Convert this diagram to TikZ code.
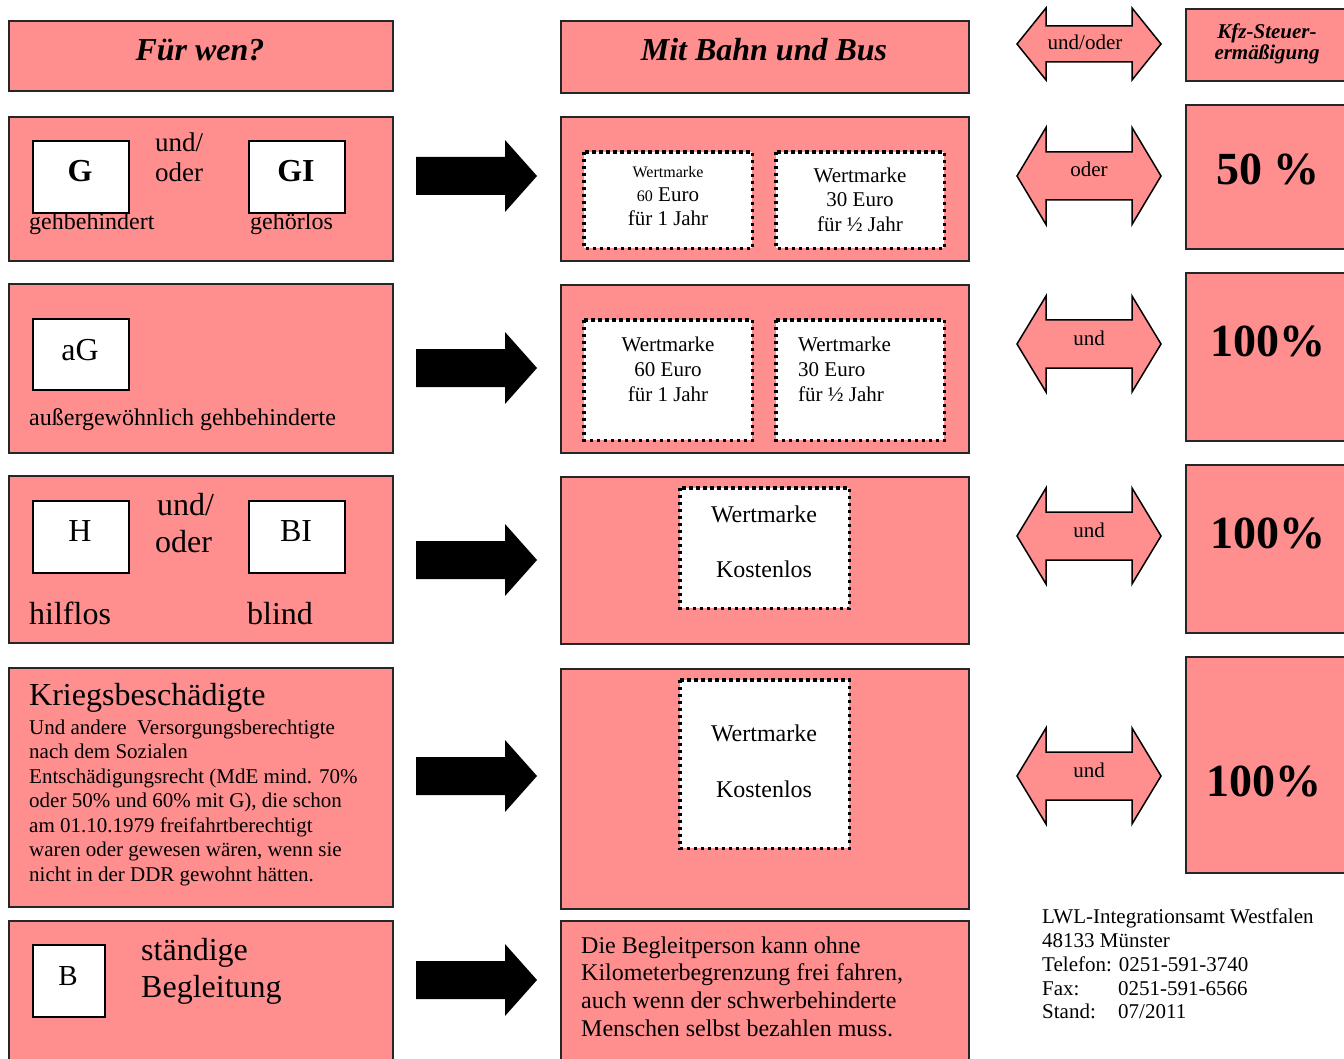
\documentclass[tikz,border=0pt]{standalone}
\usepackage{fontspec}
\setmainfont{Liberation Serif}
\definecolor{pinkfill}{RGB}{255,143,143}
\newcommand\blkarrow[2]{%
  \fill[black] (416,#2-19) -- (505,#2-19) -- (505,#2-36) -- (537,#2) -- (505,#2+36) -- (505,#2+19) -- (416,#2+19) -- cycle;}
\newcommand\twowayarrow[3]{% center y, half head, half shaft
  \filldraw[fill=pinkfill, draw=black, line width=1.5pt, line join=miter]
    (1017,#1) -- (1046,#1-#2) -- (1046,#1-#3) -- (1132,#1-#3) -- (1132,#1-#2) -- (1161,#1)
    -- (1132,#1+#2) -- (1132,#1+#3) -- (1046,#1+#3) -- (1046,#1+#2) -- cycle;}
\tikzset{
  box/.style={draw=black!85, line width=1.6pt, fill=pinkfill, anchor=north west, inner sep=0pt},
  wbox/.style={draw=black, line width=1.6pt, fill=white, anchor=north west, inner sep=0pt},
  dotbox/.style={fill=white, anchor=north west, inner sep=0pt},
  dotline/.style={draw=black, line width=3.2pt, dash pattern=on 3.2pt off 3.8pt},
  txt/.style={inner sep=0pt, anchor=base},
  txtl/.style={inner sep=0pt, anchor=base west},
  f16/.style={font=\fontsize{16}{19}\selectfont},
  f21/.style={font=\fontsize{21}{24.5}\selectfont},
  f24/.style={font=\fontsize{24}{28}\selectfont},
  f27/.style={font=\fontsize{27}{31}\selectfont},
  f32/.style={font=\fontsize{32}{37}\selectfont},
  fbig/.style={font=\fontsize{46}{50}\selectfont\bfseries},
  fhead/.style={font=\fontsize{32}{37}\selectfont\bfseries\itshape},
}
\begin{document}
\begin{tikzpicture}[x=1pt,y=-1pt]
\useasboundingbox (0,0) rectangle (1344,1059);
\clip (0,0) rectangle (1344,1059);
% left column
\node[box, minimum width=384pt, minimum height=70pt] (l0) at (8,20) {};
\node[box, minimum width=384pt, minimum height=144pt] (l1) at (8,116) {};
\node[box, minimum width=384pt, minimum height=169pt] (l2) at (8,283) {};
\node[box, minimum width=384pt, minimum height=167pt] (l3) at (8,475) {};
\node[box, minimum width=384pt, minimum height=239pt] (l4) at (8,667) {};
\node[box, minimum width=384pt, minimum height=170pt] (l5) at (8,920) {};
% middle column
\node[box, minimum width=408pt, minimum height=72pt] (m0) at (560,20) {};
\node[box, minimum width=408pt, minimum height=144pt] (m1) at (560,116) {};
\node[box, minimum width=408pt, minimum height=168pt] (m2) at (560,284) {};
\node[box, minimum width=408pt, minimum height=167pt] (m3) at (560,476) {};
\node[box, minimum width=408pt, minimum height=240pt] (m4) at (560,668) {};
\node[box, minimum width=408pt, minimum height=170pt] (m5) at (560,920) {};
% right column
\node[box, minimum width=200pt, minimum height=72pt] (r0) at (1185,8) {};
\node[box, minimum width=200pt, minimum height=144pt] (r1) at (1185,104) {};
\node[box, minimum width=200pt, minimum height=168pt] (r2) at (1185,272) {};
\node[box, minimum width=200pt, minimum height=168pt] (r3) at (1185,464) {};
\node[box, minimum width=200pt, minimum height=216pt] (r4) at (1185,656) {};
% white boxes
\node[wbox, minimum width=96pt, minimum height=72pt] (bG) at (32,140) {};
\node[wbox, minimum width=96pt, minimum height=72pt] (bGI) at (248,140) {};
\node[wbox, minimum width=96pt, minimum height=71pt] (baG) at (32,318) {};
\node[wbox, minimum width=96pt, minimum height=72pt] (bH) at (32,500) {};
\node[wbox, minimum width=96pt, minimum height=72pt] (bBI) at (248,500) {};
\node[wbox, minimum width=72pt, minimum height=72pt] (bB) at (32,944) {};
% dotted boxes
\node[dotbox, minimum width=168pt, minimum height=96pt] (d1a) at (584,152) {};
\node[dotbox, minimum width=168pt, minimum height=96pt] (d1b) at (776,152) {};
\node[dotbox, minimum width=168pt, minimum height=120pt] (d2a) at (584,320) {};
\node[dotbox, minimum width=168pt, minimum height=120pt] (d2b) at (776,320) {};
\node[dotbox, minimum width=169pt, minimum height=120pt] (d3) at (680,488) {};
\node[dotbox, minimum width=169pt, minimum height=168pt] (d4) at (680,680) {};
\foreach \n in {d1a,d1b,d2a,d2b,d3,d4}
  \draw[dotline] (\n.north west) rectangle (\n.south east);
% black arrows
\blkarrow{a1}{176}
\blkarrow{a2}{368}
\blkarrow{a3}{560}
\blkarrow{a4}{776}
\blkarrow{a5}{980}
% double arrows
\twowayarrow{44}{36}{18}
\twowayarrow{176}{48.5}{24}
\twowayarrow{344}{48}{24}
\twowayarrow{536}{48}{24}
\twowayarrow{776}{48}{24}
% titles
\node[txt, fhead] (tfw) at (200,61) {Für wen?};
\node[txt, fhead] (tmb) at (764,61) {Mit Bahn und Bus};
% row 1 left
\node[txt, font=\fontsize{32}{37}\selectfont\bfseries] (tG) at (80,182) {G};
\node[txt, font=\fontsize{32}{37}\selectfont\bfseries] (tGI) at (296,182) {GI};
\node[txtl, f27] (tu1) at (155,152) {und/};
\node[txtl, f27] (to1) at (155,182) {oder};
\node[txtl, f24] (tgeh) at (29,230) {gehbehindert};
\node[txtl, f24] (tgehl) at (250,230) {gehörlos};
% row 2 left
\node[txt, f32] (taG) at (80,360) {aG};
\node[txtl, f24] (tag2) at (29,425) {außergewöhnlich gehbehinderte};
% row 3 left
\node[txt, f32] (tH) at (80,541) {H};
\node[txt, f32] (tBI) at (296,541) {BI};
\node[txtl, f32] (tu3) at (157,515) {und/};
\node[txtl, f32] (to3) at (155,552) {oder};
\node[txtl, f32] (thil) at (29,624) {hilflos};
\node[txtl, f32] (tbli) at (247,624) {blind};
% row 4 left
\node[txtl, f32] (tkrieg) at (29,705) {Kriegsbeschädigte};
\foreach \t [count=\i] in {{Und andere\ \ Versorgungsberechtigte},{nach dem Sozialen},{Entschädigungsrecht (MdE mind. 70\%},{oder 50\% und 60\% mit G), die schon},{am 01.10.1979 freifahrtberechtigt},{waren oder gewesen wären, wenn sie},{nicht in der DDR gewohnt hätten.}}
  \node[txtl, f21] (kl\i) at (29,{734+24.5*(\i-1)}) {\t};
% row 5 left
\node[txt, font=\fontsize{29}{34}\selectfont] (tB) at (68,985) {B};
\node[txtl, f32] (tst) at (141,960) {ständige};
\node[txtl, f32] (tbeg) at (141,997) {Begleitung};
% middle row 1
\node[txt, f16] (w1a) at (668,178) {Wertmarke};
\node[txt, f21] (w1b) at (668,202) {{\fontsize{16}{19}\selectfont 60} Euro};
\node[txt, f21] (w1c) at (668,226) {für 1 Jahr};
\node[txt, f21] (w1d) at (860,183) {Wertmarke};
\node[txt, f21] (w1e) at (860,207) {30 Euro};
\node[txt, f21] (w1f) at (860,232) {für ½ Jahr};
% middle row 2
\node[txt, f21] (w2a) at (668,351) {Wertmarke};
\node[txt, f21] (w2b) at (668,376) {60 Euro};
\node[txt, f21] (w2c) at (668,401) {für 1 Jahr};
\node[txtl, f21] (w2d) at (798,351) {Wertmarke};
\node[txtl, f21] (w2e) at (798,376) {30 Euro};
\node[txtl, f21] (w2f) at (798,401) {für ½ Jahr};
% middle row 3, 4
\node[txt, f24] (w3a) at (764,522) {Wertmarke};
\node[txt, f24] (w3b) at (764,577) {Kostenlos};
\node[txt, f24] (w4a) at (764,741) {Wertmarke};
\node[txt, f24] (w4b) at (764,797) {Kostenlos};
% middle row 5
\foreach \t [count=\i] in {{Die Begleitperson kann ohne},{Kilometerbegrenzung frei fahren,},{auch wenn der schwerbehinderte},{Menschen selbst bezahlen muss.}}
  \node[txtl, f24] (bp\i) at (581,{953+27.8*(\i-1)}) {\t};
% right column
\node[txt, font=\fontsize{21}{24}\selectfont\bfseries\itshape] (kfz1) at (1267,39) {Kfz-Steuer-};
\node[txt, font=\fontsize{21}{24}\selectfont\bfseries\itshape] (kfz2) at (1267,60) {ermäßigung};
\node[txt, fbig] (p50) at (1268,185) {50 \%};
\node[txt, fbig] (p100a) at (1268,356) {100\%};
\node[txt, fbig] (p100b) at (1268,548) {100\%};
\node[txt, fbig] (p100c) at (1264,796) {100\%};
% arrow labels
\node[txt, f21] (lab0) at (1085,50) {und/oder};
\node[txt, f21] (lab1) at (1089,177) {oder};
\node[txt, f21] (lab2) at (1089,345) {und};
\node[txt, f21] (lab3) at (1089,537) {und};
\node[txt, f21] (lab4) at (1089,777) {und};
% address
\node[txtl, f21] (ad1) at (1042,923) {LWL-Integrationsamt Westfalen};
\node[txtl, f21] (ad2) at (1042,947) {48133 Münster};
\node[txtl, f21] (ad3) at (1042,971) {Telefon: 0251-591-3740};
\node[txtl, f21] (ad4) at (1042,995) {Fax:};
\node[txtl, f21] (ad4b) at (1118,995) {0251-591-6566};
\node[txtl, f21] (ad5) at (1042,1018) {Stand:};
\node[txtl, f21] (ad5b) at (1118,1018) {07/2011};
\end{tikzpicture}
\end{document}
